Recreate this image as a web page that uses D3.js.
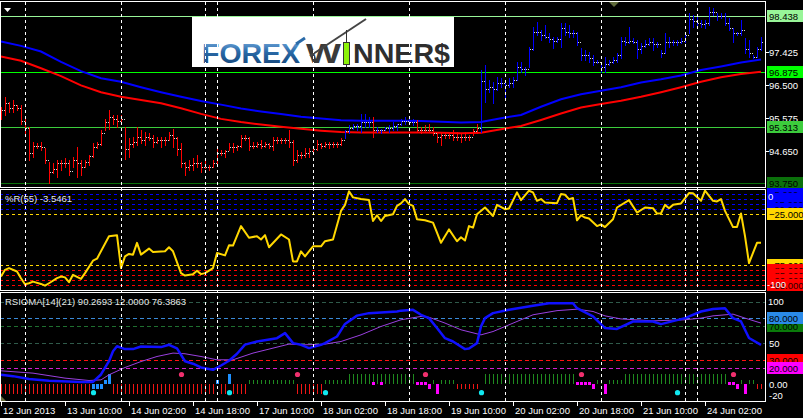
<!DOCTYPE html>
<html><head><meta charset="utf-8">
<script src="https://cdn.jsdelivr.net/npm/d3@7"></script>
<style>html,body{margin:0;padding:0;background:#000}svg{display:block}</style>
</head><body>
<svg id="c" width="803" height="418"></svg>
<script>
// ---------------- DATA ----------------
const timeTickIdx = [0,16,32,48,64,80,96,112,128,144,160,176];
const timeTickLabels = ["12 Jun 2013","13 Jun 10:00","14 Jun 02:00","14 Jun 18:00","17 Jun 10:00","18 Jun 02:00","18 Jun 18:00","19 Jun 10:00","20 Jun 02:00","20 Jun 18:00","21 Jun 10:00","24 Jun 02:00"];
const daySeparators = [6,30,51,54,78,102,126,150,171,174];

const high = [95.89,96.17,96.03,96.08,95.94,95.94,95.61,95.33,94.91,94.86,
94.91,94.72,94.35,94.30,94.39,94.39,94.44,94.39,94.49,94.77,
94.39,94.39,94.54,94.86,94.91,95.24,95.56,95.80,95.66,95.66,
95.66,95.33,95.00,95.05,95.33,95.24,95.19,95.14,95.10,95.05,
95.05,95.05,95.19,95.28,95.05,94.86,94.35,94.39,94.44,94.54,
94.35,94.39,94.25,94.39,94.77,94.68,94.68,94.86,94.86,94.82,
95.10,95.10,95.05,94.91,94.91,94.96,94.91,94.86,95.05,95.05,
95.00,95.00,95.24,94.96,94.68,94.63,94.72,94.72,94.77,94.96,
94.86,94.91,94.91,94.91,94.91,95.00,95.24,95.38,95.42,95.42,
95.70,95.70,95.61,95.61,95.33,95.28,95.33,95.38,95.47,95.42,
95.56,95.61,95.56,95.56,95.52,95.33,95.38,95.42,95.33,95.19,
95.19,95.19,95.19,95.24,95.19,95.14,95.19,95.10,95.28,95.42,
96.92,97.06,96.64,96.59,96.73,96.69,96.64,96.69,96.73,97.16,
97.16,97.01,97.58,98.14,98.28,98.04,98.18,97.95,97.86,97.86,
98.23,98.23,98.18,98.04,98.00,97.53,97.48,97.44,97.34,97.20,
97.16,97.30,97.20,97.30,97.39,97.86,97.86,98.14,97.81,97.76,
97.67,97.76,97.81,97.81,97.72,97.48,97.95,97.86,97.76,97.76,
97.81,97.95,98.51,98.47,98.42,98.33,98.33,98.70,98.65,98.51,
98.51,98.51,98.37,98.09,98.00,98.33,97.81,97.76,97.34,97.58,
97.86];
const low = [95.56,95.66,95.75,95.75,95.80,95.42,95.14,94.39,94.49,94.72,
94.68,94.30,93.76,94.02,93.93,94.11,94.21,93.97,94.21,93.93,
93.97,94.21,94.25,94.49,94.72,94.82,95.24,95.28,95.42,95.33,
95.42,94.41,94.49,94.77,94.82,94.86,94.82,94.96,94.77,94.86,
94.77,94.82,94.96,94.77,94.54,94.21,93.97,94.11,94.11,94.21,
94.07,94.16,94.11,94.21,94.25,94.54,94.49,94.68,94.63,94.68,
94.77,94.96,94.68,94.72,94.77,94.72,94.77,94.72,94.68,94.86,
94.86,94.86,94.77,94.25,94.35,94.44,94.49,94.49,94.63,94.68,
94.72,94.77,94.72,94.77,94.77,94.82,95.00,95.14,95.28,95.24,
95.19,95.33,95.33,95.05,95.19,95.14,95.24,95.19,95.24,95.24,
95.38,95.42,95.42,95.38,95.19,95.14,95.19,95.19,95.10,94.91,
94.82,95.00,95.00,94.96,94.96,94.91,94.96,94.96,95.10,95.14,
95.19,96.03,96.31,95.99,96.36,96.45,96.17,96.45,96.45,96.64,
96.87,96.78,97.01,97.48,97.90,97.76,97.81,97.72,97.53,97.72,
97.58,97.90,97.86,97.86,97.62,97.20,97.20,97.16,97.06,97.11,
96.87,96.87,97.06,97.11,97.16,97.25,97.62,97.67,97.67,97.25,
97.39,97.58,97.62,97.48,97.58,97.30,97.39,97.58,97.62,97.62,
97.67,97.72,97.95,98.14,98.18,98.14,98.09,98.18,98.47,98.33,
98.37,98.18,98.04,97.72,97.90,97.90,97.39,97.30,97.25,97.30,
97.48];
const close = [95.80,96.00,95.85,95.95,95.85,95.50,95.30,94.60,94.80,94.80,
94.75,94.40,94.05,94.15,94.30,94.30,94.30,94.10,94.40,94.30,
94.20,94.35,94.50,94.75,94.85,95.15,95.45,95.60,95.55,95.50,
95.55,94.70,94.85,94.90,95.05,94.95,95.05,95.00,94.90,94.95,
94.95,94.95,95.10,95.00,94.70,94.30,94.20,94.25,94.30,94.30,
94.20,94.20,94.20,94.30,94.60,94.60,94.65,94.75,94.75,94.80,
95.00,95.00,94.80,94.80,94.85,94.80,94.85,94.80,94.95,94.95,
94.95,94.95,94.90,94.40,94.55,94.55,94.60,94.65,94.70,94.85,
94.80,94.85,94.85,94.85,94.85,94.95,95.20,95.30,95.35,95.35,
95.45,95.45,95.45,95.25,95.25,95.25,95.30,95.30,95.35,95.40,
95.50,95.50,95.45,95.45,95.25,95.25,95.25,95.25,95.15,95.05,
95.10,95.10,95.10,95.05,95.05,95.05,95.05,95.05,95.20,95.30,
96.60,96.40,96.45,96.40,96.55,96.55,96.50,96.55,96.65,97.00,
96.95,96.95,97.50,98.00,98.00,97.90,97.85,97.80,97.75,97.80,
98.10,98.00,97.95,97.95,97.70,97.35,97.35,97.25,97.15,97.15,
97.00,97.10,97.15,97.20,97.35,97.75,97.70,97.75,97.70,97.50,
97.60,97.65,97.70,97.65,97.65,97.40,97.70,97.70,97.70,97.70,
97.75,97.90,98.35,98.30,98.25,98.20,98.25,98.55,98.55,98.45,
98.45,98.25,98.10,97.95,97.95,98.05,97.50,97.40,97.30,97.50,
97.70];
const upTrendRanges = [[86,92],[94,103],[120,190]];

const maBlue = [[0,97.72],[5,97.60],[10,97.44],[15,97.15],[20,96.89],[25,96.69],[30,96.59],[35,96.44],[40,96.30],[45,96.17],[50,96.05],[55,95.95],[60,95.84],[65,95.76],[70,95.69],[75,95.61],[80,95.56],[85,95.51],[90,95.50],[95,95.50],[100,95.50],[105,95.49],[110,95.47],[115,95.45],[120,95.46],[125,95.57],[130,95.66],[135,95.89],[140,96.10],[145,96.24],[150,96.34],[155,96.44],[160,96.57],[165,96.66],[170,96.77],[175,96.92],[180,97.02],[185,97.13],[190,97.22]];
const maRed = [[0,97.30],[5,97.18],[10,96.97],[15,96.75],[20,96.49],[25,96.30],[30,96.17],[35,96.08],[40,95.99],[45,95.85],[50,95.69],[55,95.55],[60,95.46],[65,95.39],[70,95.33],[75,95.27],[80,95.22],[85,95.18],[90,95.17],[95,95.17],[100,95.17],[105,95.17],[110,95.16],[115,95.15],[120,95.16],[125,95.26],[130,95.35],[135,95.52],[140,95.70],[145,95.87],[150,95.97],[155,96.06],[160,96.17],[165,96.30],[170,96.44],[175,96.59],[180,96.72],[185,96.81],[190,96.87]];

const priceRange = [93.638, 98.859];
const priceLevels = [98.438, 96.875, 95.313, 93.750];
const priceLevelLabels = ["98.438","96.875","95.313","93.750"];
const priceTicks = [97.425, 96.500, 95.575, 94.650];
const priceTickLabels = ["97.425","96.500","95.575","94.650"];

const wprLabel = "%R(55) -3.5461";
const wprRange = [-100, 0];
const wprBlueLevels = [-5,-10,-15,-20];
const wprYellowLevels = [-25,-75];
const wprRedLevels = [-80,-85,-90,-95];
const wpr = [[0,-86.7],[1,-80],[2,-78.3],[4,-81.7],[5,-88.3],[6,-94.3],[7,-93.3],[8,-91.7],[10,-94],[11,-95.7],[12,-93.3],[14,-88.3],[15,-86.7],[16,-87.5],[17,-92.3],[18,-85],[20,-89],[21,-83.3],[23,-71],[24,-69],[27,-46.7],[29,-45.7],[30,-78.3],[31,-66.7],[32,-64.3],[33,-65],[34,-53.3],[35,-65],[37,-59],[38,-62.3],[41,-61.7],[42,-57.7],[43,-61.7],[45,-83.3],[46,-85.7],[48,-84.3],[49,-81],[50,-84.3],[51,-83.3],[53,-78.3],[54,-63.3],[56,-65.7],[57,-55.7],[58,-56],[60,-36.7],[62,-48.3],[64,-46.7],[65,-50],[66,-45.7],[67,-57.7],[70,-45],[72,-50],[73,-71.7],[74,-71.7],[75,-61.7],[76,-66.7],[78,-56.7],[80,-56.7],[81,-51.7],[83,-50],[85,-21.7],[86,-15.7],[87,-2.3],[88,-8.3],[90,-10],[92,-11],[93,-31.7],[94,-26],[95,-31.7],[96,-26.7],[98,-25],[99,-16.7],
[100,-14.3],[101,-10],[102,-15],[103,-16.7],[104,-30],[106,-31],[108,-33.3],[109,-43.3],[110,-53.3],[112,-40],[114,-51.7],[115,-47.7],[116,-51],[117,-36.7],[118,-38.3],[119,-25],[121,-18.3],[123,-26.7],[124,-15.7],[126,-20],[127,-19.3],[129,-3.3],[130,-11],[132,-1.7],[133,-3.3],[134,-11.7],[135,-10],[136,-13.3],[139,-14],[140,-5],[141,-5.7],[142,-10],[143,-9],[144,-31],[145,-26],[146,-28.3],[147,-29.3],[149,-36.7],[150,-35],[151,-37.7],[153,-30],[154,-18.3],[157,-11],[159,-23.3],[161,-18.3],[163,-19],[164,-24.3],[165,-24],[166,-15.7],[167,-19],[168,-15.7],[170,-14.3],[172,-4],[173,-4.3],[175,-11.7],[176,-1.7],[178,-11.7],[179,-12.3],[180,-10],[181,-21.7],[183,-37.7],[184,-37.7],[185,-24.3],[186,-46.7],[187,-73.3],[188,-63.3],[189,-53.3],[190,-53.3]];

const rsiLabel = "RSIOMA[14](21) 90.2693 12.0000 76.3863";
const rsiRange = [-20, 111.5];
const rsioma = [[0,11.6],[3,10],[7,6.5],[12,4.3],[20,3],[23,3],[25,12],[27,28],[28,40],[29,46],[31,42.6],[33,42.6],[35,45.7],[40,45],[42,47.8],[44,43.4],[46,28],[48,25],[50,20.5],[53,17.6],[55,22.8],[57,28.5],[59,37],[61,48],[64,51.8],[69,55.8],[71,61.9],[73,49.8],[75,47.8],[77,43.8],[80,47.8],[81,49.8],[84,57.8],[86,73],[89,83],[92,86],[99,88],
[100,89],[103,90],[105,84],[107,80],[109,68],[111,55.8],[113,51.8],[116,42.6],[117,43.4],[119,49.8],[120,70],[121,80],[123,86],[127,90],[133,94.8],[137,98],[143,98],[144,92],[148,82],[151,68],[154,67],[158,75.9],[163,75.9],[165,72.7],[171,80],[175,88],[178,91],[181,92],[183,80],[185,76],[187,56],[190,47.8]];
const rsiomaMa = [[0,16.4],[8,13.6],[16,7.6],[22,4.7],[25,5.5],[27,11.6],[31,20.4],[35,27.6],[39,33.7],[43,37.8],[46,37],[50,33.7],[54,29.7],[58,29.7],[63,37.8],[68,43.8],[72,48.6],[76,47.8],[81,48.6],[85,51.8],[90,59.8],[95,69.9],[100,78],[105,82],[107,81],[111,74],[115,65.9],[120,59.8],[123,63.8],[127,71.9],[133,84],[139,89],[144,90.8],[148,88],[151,82.7],[155,79],[163,76.7],[171,78],[175,80],[178,82.7],[183,84.8],[186,80],[190,74]];
const rsiHist = [
-12,-12,-12,-12,-12,-12,-12,-12,-12,-12,
-12,-12,-12,-12,-12,-12,-12,-12,-12,-12,
-12,-12,-12,0,0,0,0,0,-12,-12,
-12,-12,-12,-12,-12,-12,-12,-12,-12,-12,
-12,-12,-12,-12,-12,-12,-12,-12,-12,-12,
-12,-12,-12,-12,0,-12,-12,0,-12,-12,
-12,-12,5,5,5,5,5,5,5,5,
5,5,5,5,-12,-12,-12,-12,-12,-12,
-12,5,5,5,5,5,5,12,12,12,
12,12,12,12,12,12,12,12,12,12,
12,12,12,12,0,0,0,0,5,0,
5,5,5,5,-5,-5,-5,-5,-5,-5,
0,12,12,12,12,12,12,12,12,12,
12,12,12,12,12,12,12,12,12,12,
12,12,12,12,0,0,0,0,0,5,
5,0,5,5,5,5,12,12,12,12,
12,12,12,12,12,12,12,12,12,12,
12,12,12,12,12,12,12,12,12,12,
12,12,0,0,0,5,0,5,5,-5,
-5];
const rsiBlueBars = [[23,-5],[24,-5],[25,-5],[26,5],[27,12],[54,5],[57,12]];
const rsiMagentaBars = [[107,-5],[109,-12],[148,-5],[151,-12],[184,-5],[186,-12]];
const rsiMagentaMarks = [93,95,104,105,106,144,145,146,147,182,183];
const rsiMagentaMarkValue = 2;
const rsiPinkDots = [45,74,106,145,183];
const rsiPinkValue = 12;
const rsiCyanDots = [23,57,81,120,169];
const rsiCyanValue = -10;
const rsiLevels = [100,80,70,50,30,20];

// ---------------- LAYOUT ----------------
const svg = d3.select('#c').style('font-family','"Liberation Sans", Arial, sans-serif').style('font-size','9.5px');
const PR = 765;
const P1 = [1,187], P2 = [189,290], P3 = [292,401];
const x = d3.scaleLinear().domain([0,190]).range([1,761]);
const yM = d3.scaleLinear().domain(priceRange).range([P1[1],P1[0]]);
const yW = d3.scaleLinear().domain(wprRange).range([P2[1],P2[0]]);
const yR = d3.scaleLinear().domain(rsiRange).range([P3[1],P3[0]]);
const px = v => Math.round(v)+0.5;

svg.append('rect').attr('width',803).attr('height',418).attr('fill','#000');
const defs = svg.append('defs');
[['c1',P1],['c2',P2],['c3',P3]].forEach(([id,p])=>{
  defs.append('clipPath').attr('id',id).append('rect').attr('x',0).attr('y',p[0]).attr('width',PR).attr('height',p[1]-p[0]);
});
const gr = defs.append('linearGradient').attr('id','fx').attr('x1',0).attr('y1',0).attr('x2',0).attr('y2',1);
gr.append('stop').attr('offset','0%').attr('stop-color','#7fb4e6');
gr.append('stop').attr('offset','45%').attr('stop-color','#2a6aa8');
gr.append('stop').attr('offset','100%').attr('stop-color','#0f3b6c');

function hline(g,y,color,dash){
  g.append('line').attr('x1',0).attr('x2',PR).attr('y1',px(y)).attr('y2',px(y))
   .attr('stroke',color).attr('stroke-width',1).attr('stroke-dasharray',dash||null);
}
function boxLabel(y,txt,fill,color){
  const yy=Math.round(y);
  if(fill) svg.append('rect').attr('x',767).attr('y',yy-6).attr('width',36).attr('height',12).attr('fill',fill);
  if(txt) svg.append('text').attr('x',769).attr('y',yy+3.5).attr('fill',color).text(txt);
}

// ---------- MAIN PANEL ----------
const g1 = svg.append('g').attr('clip-path','url(#c1)');
const lvlColors = ['#98f598','#00ff00','#3ccc3c','#0b700b'];
priceLevels.forEach((p,k)=>hline(g1,yM(p),lvlColors[k]));

const lineM = d3.line().x(d=>x(d[0])).y(d=>yM(d[1]));
g1.append('path').datum(maBlue).attr('d',lineM).attr('fill','none').attr('stroke','#0000ff').attr('stroke-width',2);
g1.append('path').datum(maRed).attr('d',lineM).attr('fill','none').attr('stroke','#ff0000').attr('stroke-width',2);

const isUp = i => upTrendRanges.some(r=>i>=r[0]&&i<=r[1]);
const idx = d3.range(high.length);
g1.selectAll('line.bar').data(idx).join('line').attr('class','bar')
  .attr('x1',i=>px(x(i))).attr('x2',i=>px(x(i)))
  .attr('y1',i=>Math.round(yM(high[i]))).attr('y2',i=>Math.round(yM(low[i]))+1)
  .attr('stroke',i=>isUp(i)?'#0000ff':'#ff0000');
g1.selectAll('rect.op').data(idx.slice(1)).join('rect').attr('class','op')
  .attr('x',i=>Math.round(x(i))-1).attr('y',i=>Math.round(yM(close[i-1]))).attr('width',1).attr('height',1).attr('fill','#d8d8d8');
g1.selectAll('rect.cl').data(idx).join('rect').attr('class','cl')
  .attr('x',i=>Math.round(x(i))+1).attr('y',i=>Math.round(yM(close[i]))).attr('width',1).attr('height',1).attr('fill','#d8d8d8');

// logo
const lg = svg.append('g');
lg.append('rect').attr('x',192).attr('y',17).attr('width',262).attr('height',50).attr('fill','#fff');
lg.append('text').attr('x',202).attr('y',63).attr('font-size',28).attr('font-weight','bold')
  .attr('fill','url(#fx)').attr('textLength',98).attr('lengthAdjust','spacingAndGlyphs').text('FOREX');
lg.append('path').attr('d','M296,44 L305,38').attr('stroke','#2a6aa8').attr('stroke-width',3);
lg.append('text').attr('x',306).attr('y',63).attr('font-size',28).attr('font-weight','bold')
  .attr('fill','#3a3a3a').attr('textLength',35).attr('lengthAdjust','spacingAndGlyphs').text('W');
lg.append('path').attr('d','M310,56 L366,19').attr('stroke','#444').attr('stroke-width',2);
lg.append('line').attr('x1',346.5).attr('x2',346.5).attr('y1',30).attr('y2',67).attr('stroke','#333');
lg.append('rect').attr('x',343.5).attr('y',42.5).attr('width',6).attr('height',22).attr('fill','#8cf20a').attr('stroke','#333');
lg.append('text').attr('x',353).attr('y',63).attr('font-size',28).attr('font-weight','bold')
  .attr('fill','#2e2e2e').attr('textLength',97).attr('lengthAdjust','spacingAndGlyphs').text('NNER$');

// ---------- %R PANEL ----------
const g2 = svg.append('g').attr('clip-path','url(#c2)');
wprBlueLevels.forEach(v=>hline(g2,yW(v),'#0000ff','3,3'));
wprYellowLevels.forEach(v=>hline(g2,yW(v),'#ffd700','3,3'));
wprRedLevels.forEach(v=>hline(g2,yW(v),'#ff0000','3,3'));
g2.append('path').datum(wpr).attr('d',d3.line().x(d=>x(d[0])).y(d=>yW(d[1])))
  .attr('fill','none').attr('stroke','#ffd700').attr('stroke-width',2).attr('stroke-linejoin','round');
svg.append('text').attr('x',5).attr('y',202).attr('fill','#e6e6e6').text(wprLabel);

// ---------- RSIOMA PANEL ----------
const g3 = svg.append('g').attr('clip-path','url(#c3)');
const rsiLvlColors = {100:'#2f5a4a',80:'#3a8ad8',70:'#1f6f2f',50:'#2f5a4a',30:'#ff1010',20:'#d020d0'};
rsiLevels.forEach(v=>hline(g3,yR(v),rsiLvlColors[v],'4,3'));
const y0 = Math.round(yR(0));
g3.selectAll('line.h').data(idx.filter(i=>rsiHist[i]!==0)).join('line').attr('class','h')
  .attr('x1',i=>px(x(i))).attr('x2',i=>px(x(i)))
  .attr('y1',y0).attr('y2',i=>Math.round(yR(rsiHist[i])))
  .attr('stroke',i=>rsiHist[i]>0?'#1f8a1f':'#f01515');
g3.selectAll('rect.b').data(rsiBlueBars).join('rect').attr('class','b')
  .attr('x',d=>Math.round(x(d[0]))-1).attr('width',3)
  .attr('y',d=>Math.min(y0,Math.round(yR(d[1])))).attr('height',d=>Math.abs(y0-Math.round(yR(d[1]))))
  .attr('fill','#1e90ff');
g3.selectAll('rect.m').data(rsiMagentaBars).join('rect').attr('class','m')
  .attr('x',d=>Math.round(x(d[0]))-1).attr('width',3)
  .attr('y',d=>Math.min(y0,Math.round(yR(d[1])))).attr('height',d=>Math.abs(y0-Math.round(yR(d[1]))))
  .attr('fill','#ff00ff');
g3.selectAll('rect.mm').data(rsiMagentaMarks).join('rect').attr('class','mm')
  .attr('x',i=>Math.round(x(i))-1).attr('y',Math.round(yR(rsiMagentaMarkValue))-1).attr('width',3).attr('height',3).attr('fill','#ff00ff');
g3.append('path').datum(rsiomaMa).attr('d',d3.line().x(d=>x(d[0])).y(d=>yR(d[1])))
  .attr('fill','none').attr('stroke','#9a40e0').attr('stroke-width',1);
g3.append('path').datum(rsioma).attr('d',d3.line().x(d=>x(d[0])).y(d=>yR(d[1])))
  .attr('fill','none').attr('stroke','#1010ff').attr('stroke-width',2.5).attr('stroke-linejoin','round');
g3.selectAll('circle.p').data(rsiPinkDots).join('circle').attr('class','p')
  .attr('cx',i=>x(i)+0.5).attr('cy',yR(rsiPinkValue)).attr('r',2.6).attr('fill','#f0306e');
g3.selectAll('circle.cy').data(rsiCyanDots).join('circle').attr('class','cy')
  .attr('cx',i=>x(i)+0.5).attr('cy',yR(rsiCyanValue)).attr('r',2.6).attr('fill','#10e8f0');
g3.append('path').attr('d','M0,395 L0,401 L6,401 Z').attr('fill','#6b7040');
svg.append('text').attr('x',5).attr('y',304.5).attr('fill','#e6e6e6').text(rsiLabel);

// ---------- DAY SEPARATORS ----------
svg.selectAll('line.sep').data(daySeparators).join('line').attr('class','sep')
  .attr('x1',i=>px(x(i))).attr('x2',i=>px(x(i))).attr('y1',2).attr('y2',P3[1])
  .attr('stroke','#fff').attr('stroke-dasharray','3,3');

// ---------- FRAMES ----------
[P1,P2,P3].forEach(p=>{
  svg.append('rect').attr('x',0.5).attr('y',p[0]+0.5).attr('width',PR).attr('height',p[1]-p[0])
    .attr('fill','none').attr('stroke','#fff');
});
svg.append('path').attr('d','M4,8 L11,8 L7.5,12 Z').attr('fill','#fff');
svg.append('path').attr('d','M609,2 L619,2 L614,7 Z').attr('fill','#5f6b3a');

// ---------- PRICE AXIS ----------
priceTicks.forEach((p,k)=>{
  svg.append('line').attr('x1',PR).attr('x2',PR+4).attr('y1',px(yM(p))).attr('y2',px(yM(p))).attr('stroke','#fff');
  boxLabel(yM(p),priceTickLabels[k],null,'#fff');
});
priceLevels.forEach((p,k)=>boxLabel(yM(p),priceLevelLabels[k],lvlColors[k],'#000'));

// %R axis (labels overlap as in the reference scale)
wprBlueLevels.forEach(v=>boxLabel(yW(v),v===-10?null:d3.format('.3f')(v),'#0000ff','#00002a'));
wprYellowLevels.forEach(v=>boxLabel(yW(v),d3.format('.3f')(v),'#ffd700','#000'));
wprRedLevels.forEach(v=>boxLabel(yW(v),d3.format('.3f')(v),'#ff0000','#300000'));
svg.append('text').attr('x',768).attr('y',200).attr('fill','#fff').text('0');
svg.append('text').attr('x',767).attr('y',288).attr('fill','#fff').text('-100');

// RSIOMA axis
svg.append('text').attr('x',768).attr('y',305).attr('fill','#fff').text('100');
boxLabel(yR(70),'70.000','#0a7a0a','#000');
boxLabel(yR(80),'80.000','#2a8ae8','#000');
svg.append('text').attr('x',769).attr('y',Math.round(yR(50))+3.5).attr('fill','#fff').text('50');
boxLabel(yR(30),'30.000','#ff0000','#000');
boxLabel(yR(20),'20.000','#ff00ff','#000');
svg.append('text').attr('x',769).attr('y',Math.round(yR(0))+3.5).attr('fill','#fff').text('0.00');
svg.append('text').attr('x',769).attr('y',398.5).attr('fill','#fff').text('-20');

// ---------- TIME AXIS ----------
timeTickIdx.forEach((i,k)=>{
  svg.append('line').attr('x1',px(x(i))).attr('x2',px(x(i))).attr('y1',P3[1]).attr('y2',P3[1]+5).attr('stroke','#fff');
  svg.append('text').attr('x',Math.round(x(i))+2).attr('y',414).attr('fill','#fff').text(timeTickLabels[k]);
});
</script>
</body></html>
